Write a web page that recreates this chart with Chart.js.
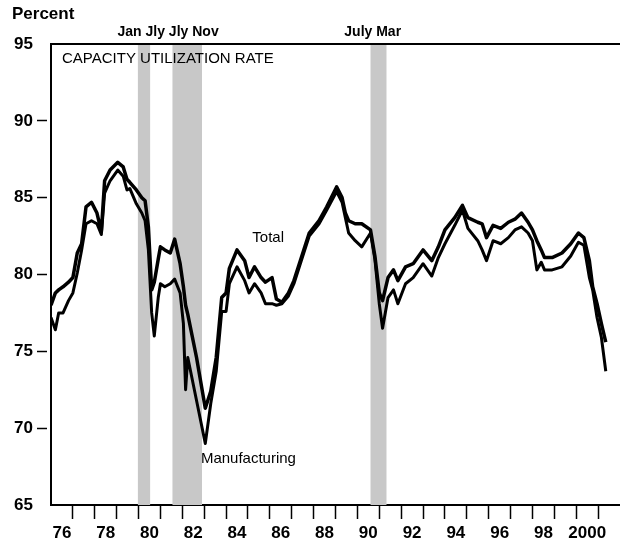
<!DOCTYPE html>
<html>
<head>
<meta charset="utf-8">
<script src="https://cdn.jsdelivr.net/npm/chart.js@4/dist/chart.umd.min.js"></script>
<style>
  html, body { margin: 0; padding: 0; background: #fff; }
  #wrap { width: 620px; height: 543px; }
</style>
</head>
<body>
<div id="wrap"><canvas id="chart" width="620" height="543"></canvas></div>
<script>
// data (decimal year, percent)
const years = [
  1976.0, 1976.2, 1976.35, 1976.55, 1976.8, 1977.0, 1977.2, 1977.4, 1977.6, 1977.85,
  1978.1, 1978.3, 1978.45, 1978.7, 1979.05, 1979.3, 1979.47, 1979.6, 1979.9, 1980.15,
  1980.3, 1980.45, 1980.6, 1980.72, 1980.9, 1981.0, 1981.2, 1981.45, 1981.65, 1981.9,
  1982.05, 1982.15, 1982.25, 1982.65, 1983.05, 1983.3, 1983.55, 1983.8, 1984.0, 1984.15,
  1984.5, 1984.85, 1985.05, 1985.3, 1985.6, 1985.8, 1986.1, 1986.3, 1986.55, 1986.85,
  1987.1, 1987.55, 1987.8, 1988.25, 1988.6, 1989.05, 1989.3, 1989.45, 1989.6, 1989.9,
  1990.2, 1990.6, 1990.8, 1991.0, 1991.15, 1991.4, 1991.65, 1991.85, 1992.2, 1992.55,
  1993.0, 1993.4, 1993.7, 1994.0, 1994.45, 1994.8, 1995.05, 1995.5, 1995.7, 1995.9,
  1996.2, 1996.55, 1996.9, 1997.2, 1997.5, 1997.8, 1998.0, 1998.2, 1998.4, 1998.55,
  1998.9, 1999.35, 1999.75, 2000.1, 2000.35, 2000.6, 2000.75, 2000.95, 2001.15, 2001.35
];
const totalRate = [
  78.0, 78.8, 79.0, 79.2, 79.5, 79.8, 81.4, 82.0, 84.4, 84.7,
  84.0, 82.8, 86.1, 86.8, 87.3, 87.0, 86.2, 86.0, 85.5, 85.0,
  84.8, 83.1, 79.0, 79.5, 81.0, 81.8, 81.6, 81.4, 82.3, 80.7,
  79.2, 78.0, 77.4, 74.6, 71.3, 72.4, 74.6, 78.5, 78.8, 80.4,
  81.6, 80.9, 79.8, 80.5, 79.8, 79.5, 79.8, 78.4, 78.2, 78.8,
  79.6, 81.6, 82.7, 83.5, 84.4, 85.7, 85.0, 84.0, 83.5, 83.3,
  83.3, 82.9, 81.2, 78.8, 78.3, 79.8, 80.3, 79.6, 80.5, 80.7,
  81.6, 80.9, 81.8, 82.9, 83.7, 84.5, 83.7, 83.4, 83.3, 82.4,
  83.2, 83.0, 83.4, 83.6, 84.0, 83.4, 82.9, 82.2, 81.6, 81.1,
  81.1, 81.4, 82.0, 82.7, 82.4, 80.9, 79.2, 78.1, 76.8, 75.6
];
const mfgRate = [
  77.2, 76.4, 77.5, 77.5, 78.3, 78.8, 80.1, 81.6, 83.3, 83.5,
  83.3, 82.6, 85.3, 86.1, 86.8, 86.4, 85.5, 85.6, 84.6, 84.0,
  83.5, 81.6, 77.5, 76.0, 78.5, 79.4, 79.2, 79.4, 79.7, 78.8,
  76.8, 72.5, 74.6, 71.8, 69.0, 71.6, 73.7, 77.6, 77.6, 79.4,
  80.5, 79.6, 78.8, 79.4, 78.8, 78.1, 78.1, 78.0, 78.1, 78.6,
  79.4, 81.4, 82.5, 83.3, 84.2, 85.4, 84.7, 83.7, 82.7, 82.2,
  81.8, 82.7, 81.0, 78.1, 76.5, 78.5, 79.0, 78.1, 79.4, 79.8,
  80.7, 79.9, 81.1, 82.0, 83.2, 84.2, 83.0, 82.2, 81.6, 80.9,
  82.2, 82.0, 82.4, 82.9, 83.1, 82.7, 82.2, 80.3, 80.8, 80.3,
  80.3, 80.5, 81.2, 82.1, 81.9, 79.8, 79.0, 77.2, 75.9, 73.7
];

// recession bands (start, end)
const recessions = [[1979.97, 1980.53], [1981.55, 1982.9], [1990.6, 1991.33]];

const yearTicks = [];
for (let y = 1977; y <= 2001; y++) yearTicks.push(y);
const xLabelYears = [1976.5, 1978.5, 1980.5, 1982.5, 1984.5, 1986.5, 1988.5, 1990.5, 1992.5, 1994.5, 1996.5, 1998.5, 2000.5];
const xLabels = ["76", "78", "80", "82", "84", "86", "88", "90", "92", "94", "96", "98", "2000"];
const yTicks = [65, 70, 75, 80, 85, 90, 95];

const FONT = "'Liberation Sans', Arial, Helvetica, sans-serif";

const decor = {
  id: "decor",
  beforeDatasetsDraw(chart) {
    const { ctx, chartArea: a, scales: { x } } = chart;
    ctx.save();
    ctx.fillStyle = "#c8c8c8";
    recessions.forEach(([s, e]) => {
      const x1 = x.getPixelForValue(s);
      const x2 = x.getPixelForValue(e);
      ctx.fillRect(x1, a.top, x2 - x1, a.bottom - a.top);
    });
    ctx.restore();
  },
  afterDraw(chart) {
    const { ctx, chartArea: a, scales: { x, y } } = chart;
    ctx.save();
    // top frame line
    ctx.strokeStyle = "#000";
    ctx.lineWidth = 2;
    ctx.beginPath();
    ctx.moveTo(a.left, a.top);
    ctx.lineTo(a.right, a.top);
    ctx.stroke();

    ctx.fillStyle = "#000";
    ctx.textBaseline = "alphabetic";
    ctx.textAlign = "left";
    ctx.font = "bold 17px " + FONT;
    ctx.fillText("Percent", 12, 19);

    ctx.font = "15px " + FONT;
    ctx.fillText("CAPACITY UTILIZATION RATE", a.left + 11, 63);
    ctx.fillText("Total", x.getPixelForValue(1985.2), y.getPixelForValue(82.1));
    ctx.fillText("Manufacturing", x.getPixelForValue(1982.85), y.getPixelForValue(67.75));

    ctx.textAlign = "center";
    ctx.font = "bold 14px " + FONT;
    ctx.fillText("Jan Jly Jly Nov", x.getPixelForValue(1981.35), 36);
    ctx.fillText("July Mar", x.getPixelForValue(1990.7), 36);
    ctx.restore();
  }
};

new Chart(document.getElementById("chart"), {
  type: "line",
  data: {
    datasets: [
      {
        label: "Total",
        data: years.map((t, i) => ({ x: t, y: totalRate[i] })),
        borderColor: "#000",
        borderWidth: 3.5,
        pointRadius: 0,
        tension: 0,
        borderJoinStyle: "round",
        xAxisID: "x"
      },
      {
        label: "Manufacturing",
        data: years.map((t, i) => ({ x: t, y: mfgRate[i] })),
        borderColor: "#000",
        borderWidth: 3,
        pointRadius: 0,
        tension: 0,
        borderJoinStyle: "round",
        xAxisID: "x"
      }
    ]
  },
  options: {
    responsive: false,
    animation: false,
    layout: { padding: { top: 44, left: 0, right: 0, bottom: 0 } },
    plugins: { legend: { display: false }, tooltip: { enabled: false } },
    scales: {
      x: {
        type: "linear",
        axis: "x",
        position: "bottom",
        min: 1976,
        max: 2002,
        weight: 0,
        afterBuildTicks: s => { s.ticks = yearTicks.map(v => ({ value: v })); },
        afterFit: s => { s.height = 15; },
        grid: { drawOnChartArea: false, tickLength: 14, tickColor: "#000", tickWidth: 1.5 },
        border: { color: "#000", width: 2 },
        ticks: { display: false }
      },
      xLab: {
        type: "linear",
        axis: "x",
        position: "bottom",
        min: 1976,
        max: 2002,
        weight: 1,
        afterBuildTicks: s => { s.ticks = xLabelYears.map(v => ({ value: v })); },
        afterFit: s => { s.height = 23; },
        grid: { display: false },
        border: { display: false },
        ticks: {
          autoSkip: false,
          maxRotation: 0,
          padding: -5,
          color: "#000",
          font: { family: FONT, size: 17, weight: "bold" },
          callback: (v, i) => xLabels[i]
        }
      },
      y: {
        type: "linear",
        position: "left",
        min: 65,
        max: 95,
        afterBuildTicks: s => { s.ticks = yTicks.map(v => ({ value: v })); },
        afterFit: s => { s.width = 51; },
        grid: {
          drawOnChartArea: false,
          tickLength: 14,
          tickBorderDash: [10, 20],
          tickWidth: 1.5,
          tickColor: c => (c.tick && (c.tick.value === 95 || c.tick.value === 65)) ? "rgba(0,0,0,0)" : "#000"
        },
        border: { color: "#000", width: 2 },
        ticks: {
          padding: 4,
          color: "#000",
          font: { family: FONT, size: 17, weight: "bold" }
        }
      }
    }
  },
  plugins: [decor]
});
</script>
</body>
</html>
